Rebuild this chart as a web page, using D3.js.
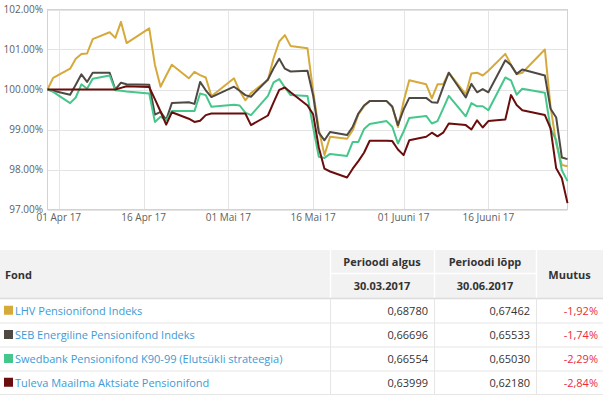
<!DOCTYPE html>
<html>
<head>
<meta charset="utf-8">
<script src="https://cdn.jsdelivr.net/npm/d3@7"></script>
<style>
  body { margin: 0; background: #fff; font-family: "Open Sans", sans-serif; }
  svg { display: block; }
</style>
</head>
<body>
<div id="chart"></div>
<script>
// trading days shown in the chart
var dates = ["2017-03-30","2017-03-31","2017-04-03","2017-04-04","2017-04-05","2017-04-06","2017-04-07",
  "2017-04-10","2017-04-11","2017-04-12","2017-04-13","2017-04-17","2017-04-18","2017-04-19","2017-04-20",
  "2017-04-21","2017-04-24","2017-04-25","2017-04-26","2017-04-27","2017-04-28","2017-05-02","2017-05-03",
  "2017-05-04","2017-05-05","2017-05-08","2017-05-09","2017-05-10","2017-05-11","2017-05-12","2017-05-15",
  "2017-05-16","2017-05-17","2017-05-18","2017-05-19","2017-05-22","2017-05-23","2017-05-24","2017-05-25",
  "2017-05-26","2017-05-29","2017-05-30","2017-05-31","2017-06-01","2017-06-02","2017-06-05","2017-06-06",
  "2017-06-07","2017-06-08","2017-06-09","2017-06-12","2017-06-13","2017-06-14","2017-06-15","2017-06-16",
  "2017-06-19","2017-06-20","2017-06-21","2017-06-22","2017-06-26","2017-06-27","2017-06-28","2017-06-29",
  "2017-06-30"];

// index values (%), start = 100
var lhv = [100.00,100.29,100.52,100.77,100.89,100.90,101.26,101.43,101.29,101.69,101.16,101.53,100.62,100.07,100.35,
  100.62,100.28,100.44,100.36,100.30,99.83,100.28,99.96,99.73,99.91,100.24,100.78,101.20,101.36,101.09,101.03,
  99.95,99.00,98.36,98.82,98.77,98.98,99.38,99.58,99.71,99.71,99.58,99.06,99.70,100.23,100.13,99.78,
  100.13,100.13,100.42,99.88,100.40,100.42,100.35,100.47,100.89,100.62,100.38,100.42,101.00,99.57,98.65,98.11,
  98.08];
var seb = [100.00,99.97,99.87,100.12,100.38,100.19,100.42,100.42,100.00,100.17,100.13,100.12,99.37,99.44,99.24,
  99.66,99.68,99.64,100.19,99.98,99.81,100.07,99.97,99.86,99.82,100.25,100.53,100.77,100.52,100.45,100.47,
  99.85,98.92,98.73,98.94,98.86,99.07,99.40,99.60,99.71,99.71,99.57,99.11,99.50,99.79,99.79,99.68,
  99.67,100.06,100.42,99.80,100.14,99.93,100.01,99.93,100.73,100.61,100.39,100.50,100.35,99.52,99.30,98.30,
  98.26];
var swed = [100.00,99.94,99.66,99.80,100.13,100.02,100.27,100.35,99.98,99.97,99.95,99.90,99.19,99.32,99.23,
  99.46,99.46,99.46,99.90,99.86,99.57,99.62,99.60,99.42,99.36,99.84,100.18,100.26,100.05,99.86,99.84,
  99.05,98.32,98.29,98.39,98.34,98.69,98.69,99.01,99.14,99.21,99.07,98.65,98.95,99.29,99.34,99.15,
  99.21,99.52,99.84,99.33,99.66,99.58,99.58,99.48,100.30,100.23,99.87,100.02,99.92,99.02,98.73,97.98,
  97.71];
var tuleva = [100.00,100.00,100.00,100.00,100.00,100.00,100.00,100.00,100.00,100.04,100.08,100.06,99.76,99.45,99.12,
  99.43,99.27,99.19,99.22,99.36,99.40,99.40,99.40,99.40,99.11,99.35,99.68,99.99,100.05,99.93,99.60,
  99.38,98.55,98.02,97.95,97.80,98.02,98.21,98.42,98.72,98.72,98.71,98.50,98.36,98.73,98.82,98.92,
  98.83,98.92,99.15,99.11,99.00,99.23,99.05,99.21,99.25,99.86,99.61,99.48,99.36,99.03,98.03,97.78,
  97.16];

var seriesColors = ["#d6aa3a", "#4f4944", "#45c78b", "#6b0d0d"];

var yTicks = [97, 98, 99, 100, 101, 102];
var tickDates = ["2017-04-01","2017-04-16","2017-05-01","2017-05-16","2017-06-01","2017-06-16"];
var tickLabels = ["01 Apr 17","16 Apr 17","01 Mai 17","16 Mai 17","01 Juuni 17","16 Juuni 17"];

// table
var funds = ["LHV Pensionifond Indeks", "SEB Energiline Pensionifond Indeks",
  "Swedbank Pensionifond K90-99 (Elutsükli strateegia)", "Tuleva Maailma Aktsiate Pensionifond"];
var startVals = ["0,68780", "0,66696", "0,66554", "0,63999"];
var endVals = ["0,67462", "0,65533", "0,65030", "0,62180"];
var changes = ["-1,92%", "-1,74%", "-2,29%", "-2,84%"];
var startDate = "30.03.2017", endDate = "30.06.2017";

var W = 603, H = 399;
var plot = { left: 47.5, right: 567.5, top: 9.5, bottom: 209.5 };

var parse = d3.timeParse("%Y-%m-%d");

var svg = d3.select("#chart").append("svg")
  .attr("width", W).attr("height", H)
  .attr("viewBox", `0 0 ${W} ${H}`);

var x = d3.scaleTime()
  .domain([parse("2017-03-30"), parse("2017-06-30")])
  .range([plot.left, plot.right]);
var y = d3.scaleLinear()
  .domain([97, 102])
  .range([plot.bottom, plot.top]);

// grid
svg.append("g").selectAll("line.h").data(yTicks).enter().append("line")
  .attr("x1", plot.left).attr("x2", plot.right)
  .attr("y1", function (d) { return Math.round(y(d)) + 0.5; })
  .attr("y2", function (d) { return Math.round(y(d)) + 0.5; })
  .attr("stroke", "#e4e4e4").attr("stroke-width", 1);

svg.append("g").selectAll("line.v").data(tickDates).enter().append("line")
  .attr("x1", function (d) { return Math.round(x(parse(d))) + 0.5; })
  .attr("x2", function (d) { return Math.round(x(parse(d))) + 0.5; })
  .attr("y1", plot.top).attr("y2", plot.bottom)
  .attr("stroke", "#e4e4e4").attr("stroke-width", 1);

// plot frame
svg.append("rect")
  .attr("x", plot.left).attr("y", plot.top)
  .attr("width", plot.right - plot.left).attr("height", plot.bottom - plot.top)
  .attr("fill", "none").attr("stroke", "#ccd5de");

// y labels
svg.append("g").selectAll("text").data(yTicks).enter().append("text")
  .attr("x", 43).attr("y", function (d) { return y(d) + 3.5; })
  .attr("text-anchor", "end")
  .attr("font-size", "10px").attr("fill", "#606060")
  .text(function (d) { return d3.format(".2f")(d) + "%"; });

// x labels
svg.append("g").selectAll("text").data(tickDates).enter().append("text")
  .attr("x", function (d) { return x(parse(d)); })
  .attr("y", 221)
  .attr("text-anchor", "middle")
  .attr("font-size", "10px").attr("fill", "#606060")
  .text(function (d, i) { return tickLabels[i]; });

// lines
var allSeries = [lhv, seb, swed, tuleva];
var line = d3.line()
  .x(function (d, i) { return x(parse(dates[i])); })
  .y(function (d) { return y(d); });

svg.append("g").selectAll("path").data(allSeries).enter().append("path")
  .attr("fill", "none")
  .attr("stroke", function (d, i) { return seriesColors[i]; })
  .attr("stroke-width", 2)
  .attr("stroke-linejoin", "round")
  .attr("d", line);

// ---- table ----
var cols = [0, 330, 434, 536, 603];
var headTop = 250, headMid = 273.5, headBottom = 298.5;
var rowY = [298.5, 323, 347, 371, 394.5];

var tbl = svg.append("g").attr("font-size", "11px");

tbl.append("rect").attr("x", 0).attr("y", headTop)
  .attr("width", W).attr("height", headBottom - headTop).attr("fill", "#f2f2f2");

// header separators (white)
[cols[1], cols[2], cols[3]].forEach(function (cx) {
  tbl.append("line").attr("x1", cx + 0.5).attr("x2", cx + 0.5)
    .attr("y1", headTop).attr("y2", headBottom).attr("stroke", "#fff").attr("stroke-width", 1.5);
});
tbl.append("line").attr("x1", cols[1]).attr("x2", cols[3])
  .attr("y1", headMid).attr("y2", headMid).attr("stroke", "#fff").attr("stroke-width", 1.5);
tbl.append("line").attr("x1", 0).attr("x2", W)
  .attr("y1", headBottom).attr("y2", headBottom).attr("stroke", "#dcdcdc").attr("stroke-width", 1.5);

tbl.append("text").attr("x", 5).attr("y", 279).attr("font-weight", "bold").attr("fill", "#333").text("Fond");
tbl.append("text").attr("x", (cols[1] + cols[2]) / 2).attr("y", 266).attr("text-anchor", "middle")
  .attr("font-weight", "bold").attr("fill", "#333").text("Perioodi algus");
tbl.append("text").attr("x", (cols[2] + cols[3]) / 2).attr("y", 266).attr("text-anchor", "middle")
  .attr("font-weight", "bold").attr("fill", "#333").text("Perioodi lõpp");
tbl.append("text").attr("x", (cols[1] + cols[2]) / 2).attr("y", 290).attr("text-anchor", "middle")
  .attr("font-weight", "bold").attr("fill", "#333").text(startDate);
tbl.append("text").attr("x", (cols[2] + cols[3]) / 2).attr("y", 290).attr("text-anchor", "middle")
  .attr("font-weight", "bold").attr("fill", "#333").text(endDate);
tbl.append("text").attr("x", (cols[3] + cols[4]) / 2).attr("y", 279).attr("text-anchor", "middle")
  .attr("font-weight", "bold").attr("fill", "#333").text("Muutus");

// body grid
rowY.slice(1).forEach(function (ry) {
  tbl.append("line").attr("x1", 0).attr("x2", W).attr("y1", ry).attr("y2", ry)
    .attr("stroke", "#e6e6e6");
});
[cols[1], cols[2], cols[3]].forEach(function (cx) {
  tbl.append("line").attr("x1", cx + 0.5).attr("x2", cx + 0.5)
    .attr("y1", headBottom).attr("y2", rowY[4]).attr("stroke", "#e6e6e6");
});

var rows = tbl.selectAll("g.row").data(funds).enter().append("g")
  .attr("transform", function (d, i) { return `translate(0,${(rowY[i] + rowY[i + 1]) / 2})`; });

rows.append("rect").attr("x", 4).attr("y", -5).attr("width", 9).attr("height", 9)
  .attr("fill", function (d, i) { return seriesColors[i]; });
rows.append("text").attr("x", 15).attr("y", 4).attr("fill", "#3d9ad6").text(function (d) { return d; });
rows.append("text").attr("x", cols[2] - 6).attr("y", 4).attr("text-anchor", "end").attr("fill", "#333")
  .text(function (d, i) { return startVals[i]; });
rows.append("text").attr("x", cols[3] - 6).attr("y", 4).attr("text-anchor", "end").attr("fill", "#333")
  .text(function (d, i) { return endVals[i]; });
rows.append("text").attr("x", W - 5).attr("y", 4).attr("text-anchor", "end").attr("fill", "#ee2a3a")
  .text(function (d, i) { return changes[i]; });
</script>
</body>
</html>
